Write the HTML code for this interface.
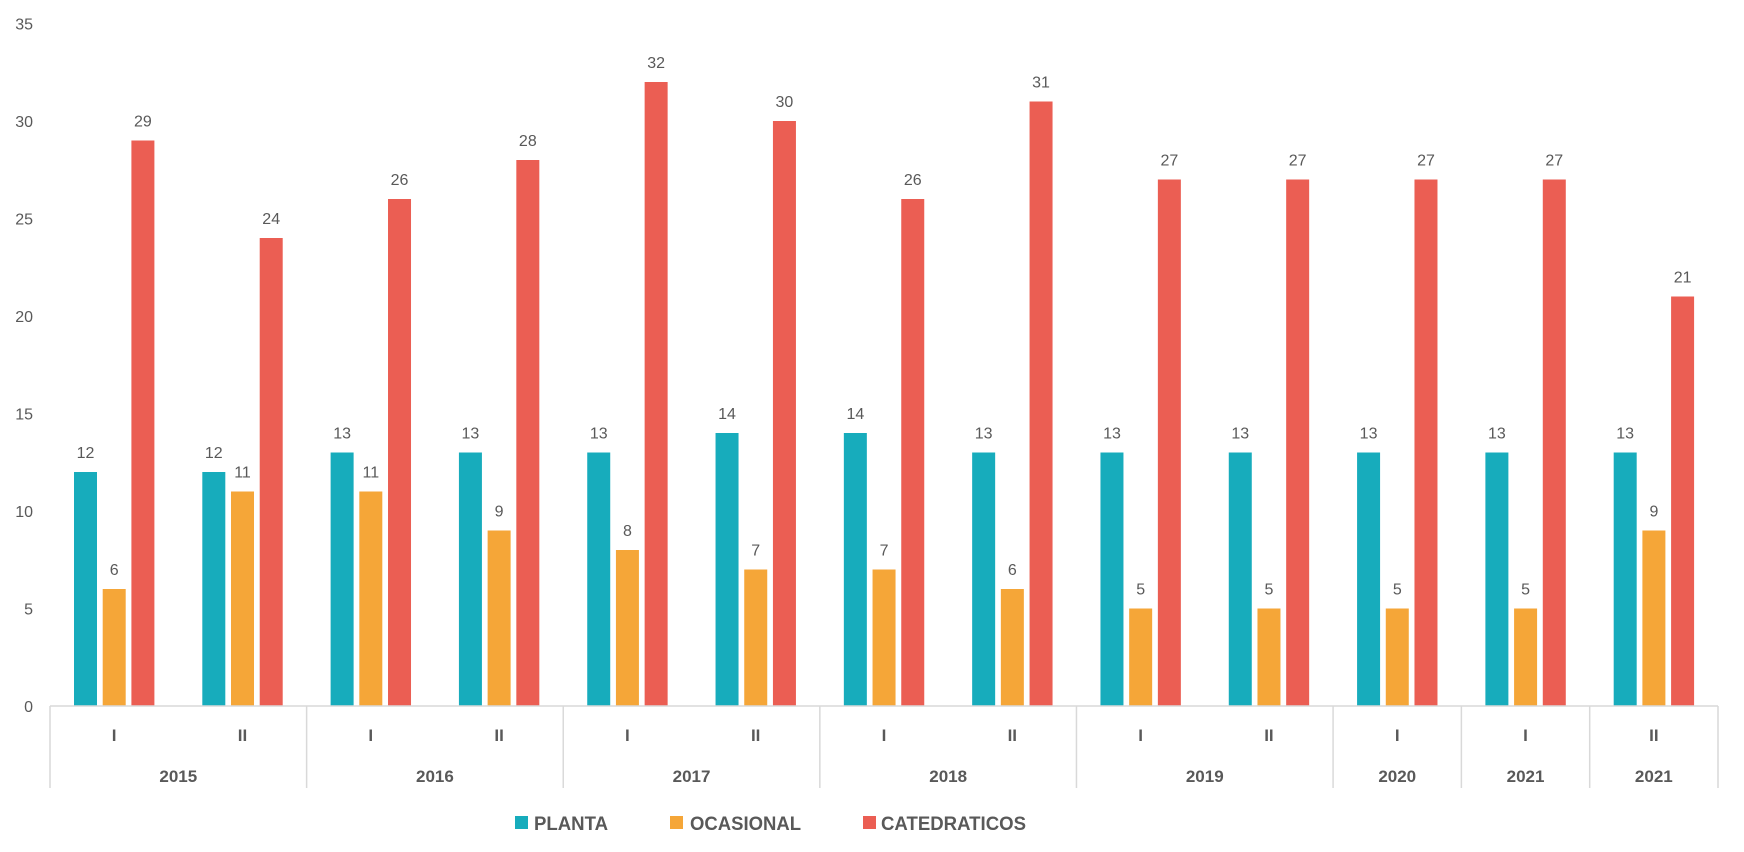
<!DOCTYPE html>
<html><head><meta charset="utf-8"><style>
html,body{margin:0;padding:0;background:#fff;}
svg{display:block;}
text{font-family:"Liberation Sans",sans-serif;fill:#595959;}
</style></head><body>
<svg width="1744" height="852" viewBox="0 0 1744 852" xmlns="http://www.w3.org/2000/svg">
<g id="yaxis" font-size="16" text-anchor="end"></g>
<g id="bars"></g>
<g id="cats"></g>
<g font-size="19" font-weight="bold">
<rect x="515" y="816" width="13" height="13" fill="#17ACBC"/>
<text x="534" y="830" textLength="74" lengthAdjust="spacingAndGlyphs">PLANTA</text>
<rect x="670" y="816" width="13" height="13" fill="#F5A638"/>
<text x="690" y="830" textLength="111" lengthAdjust="spacingAndGlyphs">OCASIONAL</text>
<rect x="863" y="816" width="13" height="13" fill="#EB5E53"/>
<text x="881" y="830" textLength="145" lengthAdjust="spacingAndGlyphs">CATEDRATICOS</text>
</g>
</svg>
<script>
const NS="http://www.w3.org/2000/svg";
const P=[12,12,13,13,13,14,14,13,13,13,13,13,13];
const O=[6,11,11,9,8,7,7,6,5,5,5,5,9];
const C=[29,24,26,28,32,30,26,31,27,27,27,27,21];
const R=["I","II","I","II","I","II","I","II","I","II","I","I","II"];
const y0=706,u=19.5,L=50,Rt=1718,sw=(Rt-L)/13;
function el(t,a,txt,parent){const e=document.createElementNS(NS,t);for(const k in a)e.setAttribute(k,a[k]);if(txt!==undefined)e.textContent=txt;document.getElementById(parent).appendChild(e);}
for(let v=0;v<=35;v+=5){el("text",{x:33,y:y0-v*u+6},String(v),"yaxis");}
const cols=["#17ACBC","#F5A638","#EB5E53"];
for(let i=0;i<13;i++){
 const sx=L+i*sw;
 [P[i],O[i],C[i]].forEach((v,j)=>{
  const x=sx+24+j*28.7;
  el("rect",{x:x,y:y0-v*u,width:23,height:v*u,fill:cols[j]},undefined,"bars");
  el("text",{x:x+11.5,y:y0-v*u-14,"text-anchor":"middle","font-size":"16"},String(v),"bars");
 });
 el("text",{x:sx+sw/2,y:741,"text-anchor":"middle","font-size":"17","font-weight":"bold"},R[i],"cats");
}
el("line",{x1:L,y1:y0,x2:Rt,y2:y0,stroke:"#d9d9d9","stroke-width":"1.5"},undefined,"cats");
const seps=[0,2,4,6,8,10,11,12,13];
seps.forEach(k=>el("line",{x1:L+k*sw,y1:y0,x2:L+k*sw,y2:788,stroke:"#d9d9d9","stroke-width":"1.5"},undefined,"cats"));
const yrs=[[0,2,"2015"],[2,4,"2016"],[4,6,"2017"],[6,8,"2018"],[8,10,"2019"],[10,11,"2020"],[11,12,"2021"],[12,13,"2021"]];
yrs.forEach(([a,b,t])=>el("text",{x:L+(a+b)/2*sw,y:782,"text-anchor":"middle","font-size":"17","font-weight":"bold"},t,"cats"));
</script>
</body></html>
